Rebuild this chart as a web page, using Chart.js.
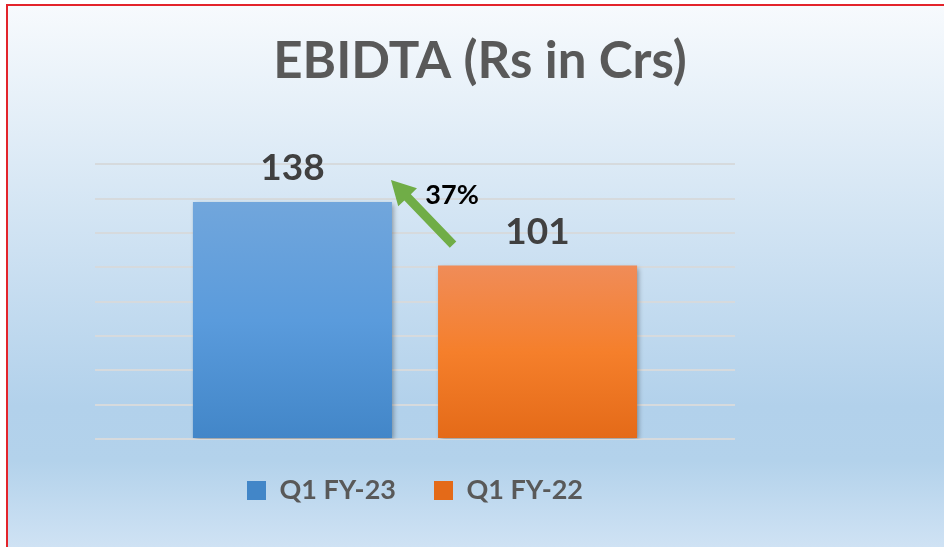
<!DOCTYPE html>
<html>
<head>
<meta charset="utf-8">
<script src="https://cdn.jsdelivr.net/npm/chart.js@4.4.1/dist/chart.umd.min.js"></script>
<style>
  html, body { margin: 0; padding: 0; background: #fff; }
  canvas { display: block; }
</style>
</head>
<body>
<canvas id="chart" width="944" height="547"></canvas>
<script>
// data
const categories = ['EBIDTA'];
const seriesNames = ['Q1 FY-23', 'Q1 FY-22'];
const q1fy23 = [138];
const q1fy22 = [101];
const growthLabel = '37%';
const yTicks = [0, 20, 40, 60, 80, 100, 120, 140, 160];

const FONT = 'Lato, "Open Sans", sans-serif';

// vertical gradient inside each bar
function barGradient(c, stops) {
    const chart = c.chart;
    if (!chart.chartArea || !c.parsed) return stops[1];
    const y = chart.scales.y;
    const top = y.getPixelForValue(c.parsed.y);
    const bottom = y.getPixelForValue(0);
    const g = chart.ctx.createLinearGradient(0, top, 0, bottom);
    g.addColorStop(0, stops[0]);
    g.addColorStop(0.5, stops[1]);
    g.addColorStop(1, stops[2]);
    return g;
}

const backgroundPlugin = {
    id: 'background',
    beforeDraw(chart) {
        const ctx = chart.ctx;
        const w = chart.width, h = chart.height;
        ctx.save();
        ctx.fillStyle = '#ffffff';
        ctx.fillRect(0, 0, w, h);
        const g = ctx.createLinearGradient(0, 6, 0, h);
        g.addColorStop(0, '#f7fafd');
        g.addColorStop(0.74, '#b2d1eb');
        g.addColorStop(0.84, '#b3d2eb');
        g.addColorStop(1, '#cfe2f4');
        ctx.fillStyle = g;
        ctx.fillRect(8, 6, w - 8, h - 6);
        // red frame (top + left)
        ctx.fillStyle = '#e3242b';
        ctx.fillRect(6, 4, w - 6, 2);
        ctx.fillRect(6, 4, 2, h - 4);
        ctx.restore();
    }
};

const shadowPlugin = {
    id: 'barShadow',
    beforeDatasetsDraw(chart) {
        const ctx = chart.ctx;
        ctx.save();
        ctx.shadowColor = 'rgba(0, 0, 0, 0.35)';
        ctx.shadowBlur = 5;
        ctx.shadowOffsetX = 2;
        ctx.shadowOffsetY = 2;
    },
    afterDatasetsDraw(chart) {
        chart.ctx.restore();
    }
};

const labelsPlugin = {
    id: 'valueLabels',
    afterDraw(chart) {
        const ctx = chart.ctx;
        const blue = chart.getDatasetMeta(0).data[0];
        const orange = chart.getDatasetMeta(1).data[0];
        ctx.save();
        ctx.font = 'bold 37px ' + FONT;
        ctx.fillStyle = '#404040';
        ctx.textAlign = 'center';
        ctx.textBaseline = 'alphabetic';
        chart.data.datasets.forEach((ds, i) => {
            const bar = chart.getDatasetMeta(i).data[0];
            ctx.fillText(String(ds.data[0]), bar.x, bar.y - 22);
        });

        // growth arrow from the orange bar up to the blue bar
        const tipX = blue.x + blue.width / 2 - 1;
        const tipY = blue.y - 22;
        const tailX = orange.x - orange.width / 2 + 15;
        const tailY = orange.y - 21;
        const ang = Math.atan2(tipY - tailY, tipX - tailX);
        const headLen = 24, headHalf = 13, shaftHalf = 4.5;
        const bx = tipX - headLen * Math.cos(ang), by = tipY - headLen * Math.sin(ang);
        const nx = -Math.sin(ang), ny = Math.cos(ang);
        ctx.fillStyle = '#70ad47';
        ctx.beginPath();
        ctx.moveTo(tailX + nx * shaftHalf, tailY + ny * shaftHalf);
        ctx.lineTo(bx + nx * shaftHalf, by + ny * shaftHalf);
        ctx.lineTo(bx + nx * headHalf, by + ny * headHalf);
        ctx.lineTo(tipX, tipY);
        ctx.lineTo(bx - nx * headHalf, by - ny * headHalf);
        ctx.lineTo(bx - nx * shaftHalf, by - ny * shaftHalf);
        ctx.lineTo(tailX - nx * shaftHalf, tailY - ny * shaftHalf);
        ctx.closePath();
        ctx.fill();

        ctx.font = 'bold 27px ' + FONT;
        ctx.fillStyle = '#000000';
        ctx.fillText(growthLabel, orange.x - orange.width / 2 + 14, blue.y + 2);
        ctx.restore();
    }
};

new Chart(document.getElementById('chart'), {
    type: 'bar',
    data: {
        labels: categories,
        datasets: [
            {
                label: seriesNames[0],
                data: q1fy23,
                backgroundColor: (c) => barGradient(c, ['#71a6dc', '#5a9bdc', '#4286c8']),
                borderWidth: 0,
                categoryPercentage: 0.766,
                barPercentage: 0.812
            },
            {
                label: seriesNames[1],
                data: q1fy22,
                backgroundColor: (c) => barGradient(c, ['#f08c58', '#f57f2b', '#e46a18']),
                borderWidth: 0,
                categoryPercentage: 0.766,
                barPercentage: 0.812
            }
        ]
    },
    options: {
        responsive: false,
        animation: false,
        devicePixelRatio: 1,
        layout: { padding: { left: 16, right: 0, top: 0, bottom: 33 } },
        plugins: {
            title: {
                display: true,
                text: 'EBIDTA (Rs in Crs)',
                color: '#595959',
                font: { family: FONT, size: 51, weight: 'bold', lineHeight: 1.2 },
                padding: { top: 31, bottom: 72 }
            },
            legend: {
                position: 'bottom',
                fullSize: false,
                labels: {
                    color: '#595959',
                    font: { family: FONT, size: 27, weight: 'bold' },
                    boxWidth: 19,
                    boxHeight: 19,
                    padding: 38
                }
            },
            tooltip: { enabled: false }
        },
        scales: {
            x: { display: false },
            y: {
                min: yTicks[0],
                max: yTicks[yTicks.length - 1],
                afterBuildTicks: (s) => { s.ticks = yTicks.map(v => ({ value: v })); },
                ticks: { display: false },
                border: { display: false },
                grid: { color: '#d6dadd', lineWidth: 2, drawTicks: false },
                afterFit: (s) => { s.width = 79; }
            },
            yRight: {
                position: 'right',
                display: true,
                ticks: { display: false },
                border: { display: false },
                grid: { display: false },
                afterFit: (s) => { s.width = 209; }
            }
        }
    },
    plugins: [backgroundPlugin, shadowPlugin, labelsPlugin]
});
</script>
</body>
</html>
